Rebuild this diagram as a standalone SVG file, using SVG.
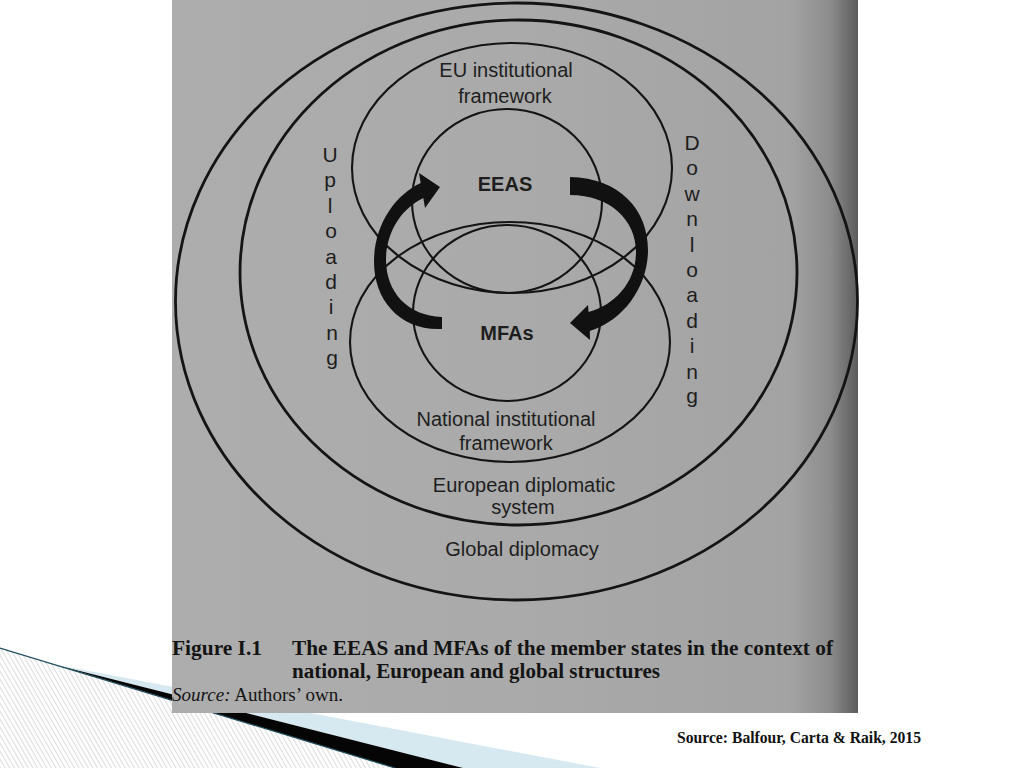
<svg xmlns="http://www.w3.org/2000/svg" width="1024" height="768" viewBox="0 0 1024 768">
  <defs>
    <style>
      .ring { fill: none; stroke: #141414; }
      .outer { stroke-width: 2.8; }
      .inner { stroke-width: 2.1; }
      .lbl { font-family: "Liberation Sans", Arial, sans-serif; font-size: 20px; fill: #1e1e1e; text-anchor: middle; }
      .bold { font-weight: bold; }
      .vert { font-family: "Liberation Sans", Arial, sans-serif; font-size: 21px; fill: #1e1e1e; text-anchor: middle; }
      .cap { font-family: "Liberation Serif", "Times New Roman", serif; font-size: 20px; font-weight: bold; fill: #141414; }
      .src { font-family: "Liberation Serif", "Times New Roman", serif; font-size: 19px; fill: #141414; }
      .arrow { fill: #111; }
    </style>
    <linearGradient id="paper" x1="0" y1="0" x2="1" y2="0">
      <stop offset="0" stop-color="#adadad"/>
      <stop offset="0.5" stop-color="#aaaaaa"/>
      <stop offset="0.9" stop-color="#a3a3a3"/>
      <stop offset="0.96" stop-color="#8c8c8c"/>
      <stop offset="1" stop-color="#5c5c5c"/>
    </linearGradient>
    <pattern id="stripes" patternUnits="userSpaceOnUse" width="4" height="4" patternTransform="rotate(-30)">
      <rect width="4" height="4" fill="#ffffff"/>
      <line x1="0" y1="0" x2="0" y2="4" stroke="#c4c4c4" stroke-width="1.2"/>
    </pattern>
  </defs>

  <rect width="1024" height="768" fill="#ffffff"/>

  <!-- bottom-left decoration -->
  <polygon points="0,648 395,768 0,768" fill="url(#stripes)"/>
  <polygon points="50,663.5 600,768 463,768" fill="#d6e8f0"/>
  <polygon points="60,666 463,768 395,768" fill="#050505"/>
  <line x1="0" y1="648" x2="395" y2="768" stroke="#1d4c5c" stroke-width="1.2"/>

  <!-- photographed page -->
  <rect x="172" y="0" width="686" height="713" fill="url(#paper)"/>

  <g id="global-diplomacy">
    <ellipse class="ring outer" cx="516.5" cy="301.5" rx="341" ry="298.5"/>
    <text class="lbl" x="522" y="556">Global diplomacy</text>
  </g>
  <g id="european-diplomatic-system">
    <ellipse class="ring outer" cx="518.5" cy="272.5" rx="278.5" ry="252.5"/>
    <text class="lbl" x="524" y="492">European diplomatic</text>
    <text class="lbl" x="523" y="514">system</text>
  </g>
  <g id="eu-institutional-framework">
    <ellipse class="ring inner" cx="512" cy="168" rx="160" ry="125"/>
    <text class="lbl" x="506" y="77">EU institutional</text>
    <text class="lbl" x="505" y="103">framework</text>
  </g>
  <g id="national-institutional-framework">
    <ellipse class="ring inner" cx="510" cy="342" rx="160" ry="120"/>
    <text class="lbl" x="506" y="426">National institutional</text>
    <text class="lbl" x="506" y="450">framework</text>
  </g>
  <g id="eeas">
    <ellipse class="ring inner" cx="507" cy="201" rx="95" ry="92"/>
    <text class="lbl bold" x="505" y="191">EEAS</text>
  </g>
  <g id="mfas">
    <ellipse class="ring inner" cx="507" cy="313" rx="94" ry="88"/>
    <text class="lbl bold" x="507" y="340">MFAs</text>
  </g>

  <g id="connectors">
    <!-- Uploading arrow: MFAs to EEAS -->
    <path class="arrow" d="M 442,317 L 442,329 C 400,331 374,300 374,262 C 374,225 395,195 420.7,183 L 419,173 L 440,187 L 425,208 L 423.3,198 C 402,208 386,232 386,260 C 386,292 408,316 442,317 Z"/>
    <!-- Downloading arrow: EEAS to MFAs -->
    <path class="arrow" d="M 570,177 C 620,178 648,210 648,250 C 648,285 625,320 589.8,331 L 590,340 L 570,323 L 588,305 L 588.6,312 C 615,305 636,282 636,252 C 636,220 610,195 570,195 Z"/>
  </g>

  <g id="uploading-label">
    <text class="vert" x="330" y="162">U</text>
    <text class="vert" x="330" y="187">p</text>
    <text class="vert" x="330" y="213">l</text>
    <text class="vert" x="331" y="238">o</text>
    <text class="vert" x="331" y="264">a</text>
    <text class="vert" x="331" y="289">d</text>
    <text class="vert" x="331" y="314">i</text>
    <text class="vert" x="332" y="340">n</text>
    <text class="vert" x="332" y="365">g</text>
  </g>
  <g id="downloading-label">
    <text class="vert" x="692" y="150">D</text>
    <text class="vert" x="692" y="175">o</text>
    <text class="vert" x="692" y="201">w</text>
    <text class="vert" x="692" y="226">n</text>
    <text class="vert" x="692" y="252">l</text>
    <text class="vert" x="692" y="277">o</text>
    <text class="vert" x="692" y="302">a</text>
    <text class="vert" x="692" y="328">d</text>
    <text class="vert" x="692" y="353">i</text>
    <text class="vert" x="692" y="379">n</text>
    <text class="vert" x="692" y="403">g</text>
  </g>

  <g id="caption">
    <text class="cap" x="172" y="655" textLength="90" lengthAdjust="spacingAndGlyphs">Figure I.1</text>
    <text class="cap" x="292" y="655" textLength="541" lengthAdjust="spacingAndGlyphs">The EEAS and MFAs of the member states in the context of</text>
    <text class="cap" x="292" y="678" textLength="368" lengthAdjust="spacingAndGlyphs">national, European and global structures</text>
    <text class="src" x="172" y="701" textLength="171" lengthAdjust="spacingAndGlyphs"><tspan font-style="italic">Source:</tspan> Authors’ own.</text>
  </g>

  <text id="credit" x="677" y="743" font-family="'Liberation Serif', 'Times New Roman', serif" font-size="17" font-weight="bold" fill="#111" textLength="244" lengthAdjust="spacingAndGlyphs">Source: Balfour, Carta &amp; Raik, 2015</text>
</svg>
